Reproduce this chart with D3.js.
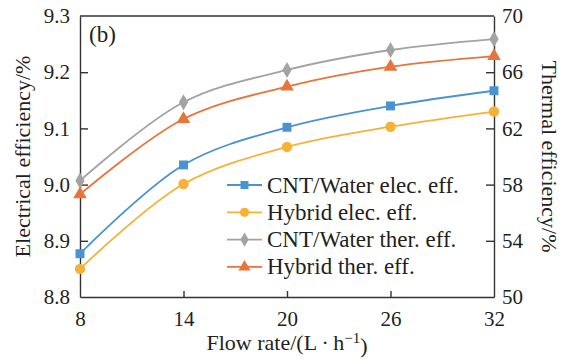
<!DOCTYPE html>
<html>
<head>
<meta charset="utf-8">
<script src="https://cdn.jsdelivr.net/npm/d3@7"></script>
<style>
  body { margin: 0; background: #fff; }
  svg text { font-family: "Liberation Serif", "Times New Roman", Times, serif; fill: #231f20; }
</style>
</head>
<body>
<div id="chart"></div>
<script>
// data
const flowRates = [8, 14, 20, 26, 32];
const cntElec = [8.877, 9.035, 9.102, 9.140, 9.167];
const hybridElec = [8.850, 9.001, 9.067, 9.103, 9.130];
const cntTher = [58.28, 63.86, 66.16, 67.58, 68.36];
const hybridTher = [57.30, 62.67, 64.97, 66.39, 67.15];
const leftTicks = [8.8, 8.9, 9.0, 9.1, 9.2, 9.3];
const rightTicks = [50, 54, 58, 62, 66, 70];

const series = [
  { name: "CNT/Water elec. eff.", values: cntElec, axis: "left", color: "#4a93d0", symbol: "square" },
  { name: "Hybrid elec. eff.", values: hybridElec, axis: "left", color: "#f6b237", symbol: "circle" },
  { name: "CNT/Water ther. eff.", values: cntTher, axis: "right", color: "#a3a3a3", symbol: "diamond" },
  { name: "Hybrid ther. eff.", values: hybridTher, axis: "right", color: "#e8743b", symbol: "triangle" }
];

const width = 565, height = 361;
const margin = { top: 16, right: 71, bottom: 64, left: 80 };
const w = width - margin.left - margin.right;
const h = height - margin.top - margin.bottom;

const svg = d3.select("#chart").append("svg")
  .attr("width", width)
  .attr("height", height);

const g = svg.append("g")
  .attr("transform", `translate(${margin.left},${margin.top})`);

const x = d3.scaleLinear().domain([8, 32]).range([0, w]);
const yL = d3.scaleLinear().domain([8.8, 9.3]).range([h, 0]);
const yR = d3.scaleLinear().domain([50, 70]).range([h, 0]);

const axisColor = "#333";

// axes
const xAxis = g.append("g")
  .attr("transform", `translate(0,${h})`)
  .call(d3.axisBottom(x).tickValues(flowRates).tickSizeInner(-6).tickSizeOuter(0).tickPadding(14));

const leftAxis = g.append("g")
  .call(d3.axisLeft(yL).tickValues(leftTicks).tickFormat(d3.format(".1f")).tickSizeInner(-8).tickSizeOuter(0).tickPadding(10));

const rightAxis = g.append("g")
  .attr("transform", `translate(${w},0)`)
  .call(d3.axisRight(yR).tickValues(rightTicks).tickSizeInner(-8).tickSizeOuter(0).tickPadding(8));

[xAxis, leftAxis, rightAxis].forEach(a => {
  a.attr("font-family", null).attr("font-size", null);
  a.select(".domain").attr("stroke", axisColor).attr("stroke-width", 1.4);
  a.selectAll(".tick line").attr("stroke", axisColor).attr("stroke-width", 1.4);
  a.selectAll(".tick text")
    .attr("fill", "#231f20")
    .style("font-size", "21px");
});
// no tick marks at the axis ends
xAxis.selectAll(".tick line").filter(d => d === 8 || d === 32).remove();
leftAxis.selectAll(".tick line").filter(d => d === 8.8 || d === 9.3).remove();
rightAxis.selectAll(".tick line").filter(d => d === 50 || d === 70).remove();

// top border
g.append("line")
  .attr("x1", 0).attr("x2", w)
  .attr("y1", 0).attr("y2", 0)
  .attr("stroke", axisColor)
  .attr("stroke-width", 1.4);

// lines
const symbolType = {
  square: d3.symbolSquare,
  circle: d3.symbolCircle,
  diamond: d3.symbolDiamond,
  triangle: d3.symbolTriangle
};
const symbolSize = { square: 80, circle: 85, diamond: 75, triangle: 80 };

series.forEach(s => {
  const y = s.axis === "left" ? yL : yR;
  const line = d3.line()
    .x((d, i) => x(flowRates[i]))
    .y(d => y(d))
    .curve(d3.curveCatmullRom.alpha(0.5));

  g.append("path")
    .datum(s.values)
    .attr("fill", "none")
    .attr("stroke", s.color)
    .attr("stroke-width", 1.8)
    .attr("d", line);

  g.selectAll(null)
    .data(s.values)
    .enter()
    .append("path")
    .attr("transform", (d, i) => `translate(${x(flowRates[i])},${y(d)})`)
    .attr("d", d3.symbol(symbolType[s.symbol], symbolSize[s.symbol]))
    .attr("fill", s.color);
});

// panel label
g.append("text")
  .attr("x", 9)
  .attr("y", 26)
  .style("font-size", "23px")
  .text("(b)");

// legend
const legend = g.append("g")
  .attr("transform", `translate(${227 - margin.left},${185 - margin.top})`);

series.forEach((s, i) => {
  const row = legend.append("g").attr("transform", `translate(0,${i * 27.3})`);
  row.append("line")
    .attr("x1", 0).attr("x2", 35)
    .attr("stroke", s.color)
    .attr("stroke-width", 1.8);
  row.append("path")
    .attr("transform", "translate(17.5,0)")
    .attr("d", d3.symbol(symbolType[s.symbol], symbolSize[s.symbol] * 0.8))
    .attr("fill", s.color);
  row.append("text")
    .attr("x", 40)
    .attr("dy", "0.33em")
    .style("font-size", "23px")
    .text(s.name);
});

// axis titles
svg.append("text")
  .attr("transform", `translate(30,${margin.top + h / 2}) rotate(-90)`)
  .attr("text-anchor", "middle")
  .style("font-size", "22px")
  .text("Electrical efficiency/%");

svg.append("text")
  .attr("transform", `translate(542,${margin.top + h / 2}) rotate(90)`)
  .attr("text-anchor", "middle")
  .style("font-size", "22px")
  .text("Thermal efficiency/%");

const xt = svg.append("text")
  .attr("x", margin.left + w / 2)
  .attr("y", 350)
  .attr("text-anchor", "middle")
  .style("font-size", "22px");
xt.append("tspan").text("Flow rate/(L\u2009\u00b7\u2009h");
xt.append("tspan").attr("dy", "-0.45em").style("font-size", "15px").text("\u22121");
xt.append("tspan").attr("dy", "0.45em").text(")");
</script>
</body>
</html>
